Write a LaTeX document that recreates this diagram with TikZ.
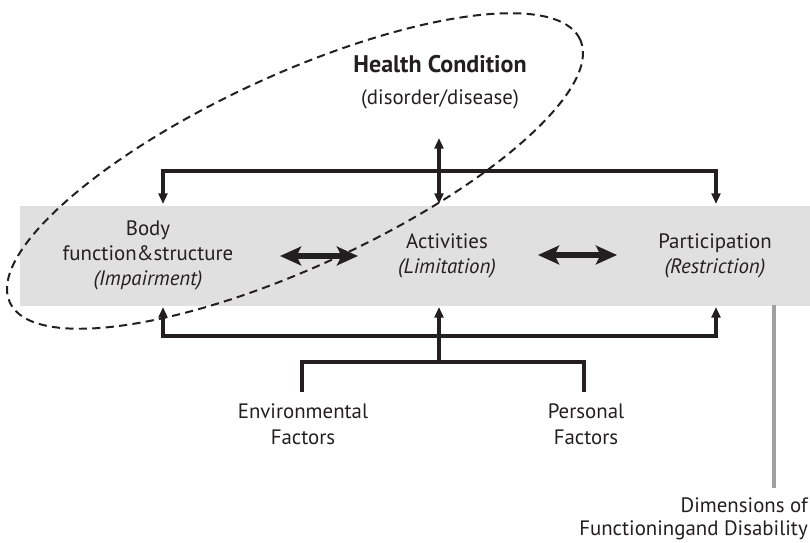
\documentclass[tikz,border=0pt]{standalone}
\usepackage{fontspec}
\setmainfont{PT Sans}
\usetikzlibrary{arrows.meta,shapes.geometric}
\definecolor{inkblack}{RGB}{35,31,32}
\definecolor{bandgray}{RGB}{224,224,224}
\definecolor{rulegray}{RGB}{160,160,160}

\begin{document}
\begin{tikzpicture}[x=0.03cm, y=-0.03cm,
  lbl/.style={align=center, text=inkblack, inner sep=0pt, font=\fontsize{17.8}{21.3}\selectfont},
  conn/.style={draw=inkblack, line width=2.9pt},
  tipdown/.style={conn, -{Triangle[length=9pt, width=7.5pt]}},
  tipboth/.style={conn, {Triangle[length=9pt, width=7.5pt]}-{Triangle[length=9pt, width=7.5pt]}},
  bigboth/.style={draw=inkblack, line width=4.5pt, {Stealth[length=18pt, width=16pt, inset=4pt]}-{Stealth[length=18pt, width=16pt, inset=4pt]}},
  hcloop/.style={draw=inkblack, ellipse, line width=1.7pt, dash pattern=on 7pt off 4.5pt, inner sep=0pt, minimum width=18.84cm, minimum height=5.76cm}]
  \useasboundingbox (0,0) rectangle (810,543);
  % band of the three dimensions
  \fill[bandgray] (20,206) rectangle (810,306);
  \node[lbl, font=\fontsize{20.5}{24}\selectfont\bfseries] (hc) at (440,64) {Health Condition};
  \node[lbl] (dd) at (440,99) {(disorder/disease)};
  \node[lbl] (body) at (148,255) {Body\\function\&structure\\\textit{(Impairment)}};
  \node[lbl] (act) at (447,256) {Activities\\\textit{(Limitation)}};
  \node[lbl] (part) at (715,256) {Participation\\\textit{(Restriction)}};
  \node[lbl, font=\fontsize{17.8}{22}\selectfont] (env) at (303,424) {Environmental\\Factors};
  \node[lbl, font=\fontsize{17.8}{22}\selectfont] (pers) at (586,424) {Personal\\Factors};
  \node[lbl, align=right, anchor=east, font=\fontsize{17.8}{19.6}\selectfont] (dims) at (808,519) {Dimensions of\\Functioningand Disability};
  % end points on the band
  \coordinate (hcarrow) at (439,138);
  \coordinate (tm) at (439,171);
  \coordinate (bodytop) at (163,204);
  \coordinate (acttop) at (439,204);
  \coordinate (parttop) at (716,204);
  \coordinate (bodybot) at (163,307);
  \coordinate (actbot) at (439,307);
  \coordinate (partbot) at (716,307);
  \coordinate (bm) at (439,336);
  \coordinate (fm) at (439,362);
  \coordinate (envtop) at (302,392);
  \coordinate (perstop) at (584,392);
  \coordinate (dimtop) at (774,305);
  \coordinate (dimbot) at (774,488);
  % connectors
  \draw[tipdown] (tm) -| (bodytop);
  \draw[tipdown] (tm) -| (parttop);
  \draw[tipboth] (hcarrow) -- (acttop);
  \draw[tipdown] (bm) -| (bodybot);
  \draw[tipdown] (bm) -| (partbot);
  \draw[tipdown] (fm) -- (actbot);
  \draw[conn] (envtop) |- (fm) -| (perstop);
  \coordinate (b1) at (280,256);
  \coordinate (a1) at (358,256);
  \coordinate (a2) at (538,255);
  \coordinate (p2) at (617,255);
  \draw[bigboth] (b1) -- (a1);
  \draw[bigboth] (a2) -- (p2);
  \draw[rulegray, line width=2.6pt] (dimtop) -- (dimbot);
  % health condition loop
  \node[hcloop, rotate=24.75] (loop) at (295,171) {};
\end{tikzpicture}
\end{document}
